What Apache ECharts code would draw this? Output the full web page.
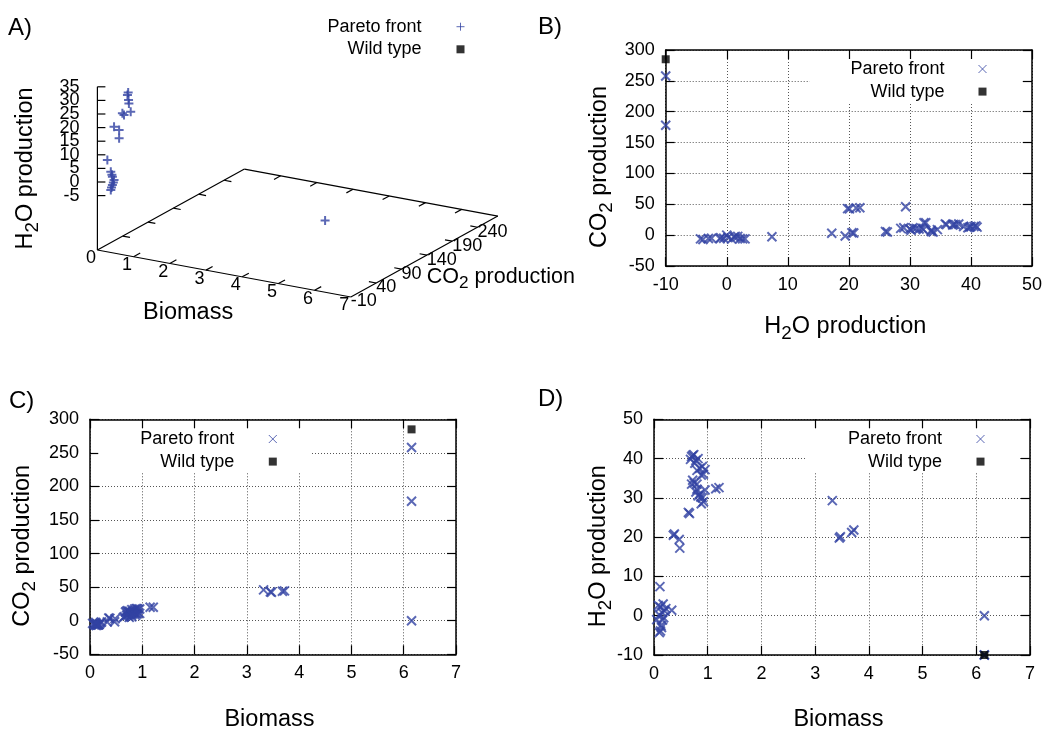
<!DOCTYPE html>
<html>
<head>
<meta charset="utf-8">
<script src="https://cdn.jsdelivr.net/npm/echarts@6.0.0/dist/echarts.min.js"></script>
<style>
html,body{margin:0;padding:0;background:#ffffff;}
#chart{width:1045px;height:729px;}
</style>
</head>
<body>
<div id="chart"></div>
<script>
// ---------------- data ----------------
// Pareto-front solutions: [biomass, CO2 production, H2O production]
const paretoFront = [
  [0.05, -4, -1.0], [0.10, -6, -4.3], [0.12, -7, -3.9], [0.14, -5.5, -3.0],
  [0.13, -5, -2.5], [0.16, -6, -1.1], [0.18, -5, -0.5], [0.10, -4, 0.2],
  [0.15, -6.5, 0.8], [0.20, -3, 1.2], [0.12, -5.5, 2.2], [0.17, -6, 3.0],
  [0.22, -2, 1.8], [0.08, -6, 2.6], [0.33, -2, 1.4], [0.11, -2.5, 7.4],
  [0.36, 4, 20.5], [0.38, 3.5, 20.8], [0.47, -1.4, 19.4], [0.48, 3, 17.2],
  [0.64, 5, 26.3], [0.66, 6, 26.0],
  [0.68, 13, 39.8], [0.70, 14, 40.5], [0.72, 15, 40.8], [0.74, 13, 41.0],
  [0.78, 12, 39.5], [0.82, 14, 40.0], [0.76, 14, 38.8],
  [0.80, 16.5, 37.0], [0.85, 17, 37.5], [0.90, 18, 38.0], [0.92, 17, 36.0],
  [0.88, 18, 35.8], [0.95, 17.5, 37.2],
  [0.75, 5, 33.8], [0.80, 6, 33.5], [0.70, 8, 33.5], [0.72, 9, 34.5],
  [0.85, 11, 31.0], [0.90, 10, 30.0], [0.92, 12, 29.0], [0.88, 11, 28.5],
  [0.78, 10, 31.5], [0.82, 12, 30.5], [0.95, 11, 32.0], [0.87, 8, 30.2], [0.80, 9, 32.2],
  [1.15, 20, 32.3], [1.21, 20, 32.6],
  [3.32, 46, 29.3], [3.47, 42.5, 20.1], [3.45, 43, 19.8], [3.68, 44, 21.2], [3.72, 44.5, 21.8],
  [6.15, 258, -10], [6.15, 178, -10], [6.15, 0, 0]
];
// Wild type: [biomass, CO2 production, H2O production]
const wildType = [[6.15, 285, -10]];
// Points visible in the 3D view (panel A): [biomass, CO2 production, H2O production]
const paretoFront3D = [
  [0.55, 10, 31.3], [0.57, 10, 32.3], [0.59, 10, 28.3], [0.58, 10, 29.5], [0.64, 10, 25.4],
  [0.41, 10, 24.2], [0.455, 10, 23.7],
  [0.32, 0, 20.1], [0.46, 0, 19.2], [0.46, 0, 16.2],
  [0.17, -2.5, 7.7],
  [0.30, -5, 4.0], [0.33, -5, 3.0], [0.344, -5, 2.3], [0.39, -5, 1.2], [0.37, -5, 0.2],
  [0.344, -5, -0.8], [0.32, -5, -1.7], [0.30, -5, -2.7],
  [6.15, 0, 0]
];
// tick labels of the 3D view
const biomassTicks3D = [0, 1, 2, 3, 4, 5, 6, 7];
const co2Ticks3D = [-10, 40, 90, 140, 190, 240];
const h2oTicks3D = [-5, 0, 5, 10, 15, 20, 25, 30, 35];

// ---------------- styles ----------------
const FONT = '"Liberation Sans", Arial, Helvetica, sans-serif';
const BLUE = '#3242a2';
const CROSS = 'path://M0,0L10,10M10,0L0,10';
const PLUS = 'path://M5,0L5,10M0,5L10,5';
const SQUARE = 'path://M0,0L10,0L10,10L0,10Z';

const RICH_OPT = {
  t: {fontSize: 23.5, fontFamily: FONT, color: '#000', lineHeight: 30},
  s: {fontSize: 18.8, fontFamily: FONT, color: '#000', lineHeight: 18.8, padding: [14, 0, 0, 0]}
};
const RICH_ZR = {
  t: {fontSize: 23.5, fontFamily: FONT, fill: '#000', lineHeight: 30},
  s: {fontSize: 18.8, fontFamily: FONT, fill: '#000', lineHeight: 18.8, padding: [14, 0, 0, 0]}
};
const RICH_ZR_SMALL = {
  t: {fontSize: 21.5, fontFamily: FONT, fill: '#000', lineHeight: 28},
  s: {fontSize: 17.2, fontFamily: FONT, fill: '#000', lineHeight: 17.2, padding: [13, 0, 0, 0]}
};
const NAME_H2O = '{t|H}{s|2}{t|O production}';
const NAME_CO2 = '{t|CO}{s|2}{t| production}';

// ---------------- 3D projection for panel A ----------------
const A3D = {ox: 97.4, oy: 250, bx: 36.2, by: 6.71, cx: 0.507, cy: -0.279, zs: 2.72,
  bMax: 7, cMin: -10, cMax: 280, zMax: 35, zBase: -25};
function proj(b, c, z) {
  return [A3D.ox + A3D.bx * b + A3D.cx * (c - A3D.cMin),
          A3D.oy + A3D.by * b + A3D.cy * (c - A3D.cMin) - A3D.zs * (z - A3D.zBase)];
}
const P = (b, c, z) => proj(b, c, z === undefined ? A3D.zBase : z);
const frameA = [];
function seg(p, q) { frameA.push([p[0], p[1], q[0], q[1]]); }
seg(P(0, A3D.cMin), P(A3D.bMax, A3D.cMin));
seg(P(A3D.bMax, A3D.cMin), P(A3D.bMax, A3D.cMax));
seg(P(A3D.bMax, A3D.cMax), P(0, A3D.cMax));
seg(P(0, A3D.cMax), P(0, A3D.cMin));
seg(P(0, A3D.cMin), P(0, A3D.cMin, A3D.zMax));
const tcLen = 0.045 * (A3D.cMax - A3D.cMin);
biomassTicks3D.forEach(b => {
  if (b > 0 && b < A3D.bMax) {
    seg(P(b, A3D.cMin), P(b, A3D.cMin + tcLen));
    seg(P(b, A3D.cMax), P(b, A3D.cMax - tcLen));
  }
});
co2Ticks3D.forEach(c => {
  if (c > A3D.cMin) {
    seg(P(A3D.bMax, c), P(A3D.bMax - 0.2, c));
    seg(P(0, c), P(0.2, c));
  }
});
h2oTicks3D.forEach(z => { const p = P(0, A3D.cMin, z); seg(p, [p[0] + 8, p[1]]); });

const labelsA = [];
h2oTicks3D.forEach(z => { const p = P(0, A3D.cMin, z); labelsA.push({x: p[0] - 18, y: p[1], t: String(z), align: 'right'}); });
biomassTicks3D.forEach(b => { const p = P(b, A3D.cMin); labelsA.push({x: p[0] - 6.5, y: p[1] + 8.5, t: String(b), align: 'center'}); });
co2Ticks3D.forEach(c => { const p = P(A3D.bMax, c); labelsA.push({x: p[0], y: p[1] + 4.5, t: String(c), align: 'left'}); });
(function () {
  const o = P(0, A3D.cMin), top = P(0, A3D.cMin, A3D.zMax), bEnd = P(A3D.bMax, A3D.cMin);
  labelsA.push({x: o[0] - 71.4, y: (o[1] + top[1]) / 2, t: NAME_H2O, rich: RICH_ZR, align: 'center', rot: Math.PI / 2});
  labelsA.push({x: (o[0] + bEnd[0]) / 2 - 36, y: (o[1] + bEnd[1]) / 2 + 39.5, t: 'Biomass', size: 23.5, align: 'center'});
  labelsA.push({x: bEnd[0] + 76, y: bEnd[1] - 20, t: NAME_CO2, rich: RICH_ZR_SMALL, align: 'left'});
})();

// ---------------- axes helpers ----------------
const BORDER = {color: '#000', width: 1.5};
const TICK = {show: true, inside: true, length: 9, lineStyle: {color: '#000', width: 1.2}};
function axisPair(dim, gi, min, max, interval, name, nameGap, nameStyle) {
  const main = {
    type: 'value', gridIndex: gi, min: min, max: max, interval: interval,
    position: dim === 'x' ? 'bottom' : 'left',
    axisLine: {show: true, onZero: false, lineStyle: BORDER},
    axisTick: TICK,
    axisLabel: {show: true, margin: dim === 'x' ? 10 : 11, fontSize: 18, color: '#000', fontFamily: FONT},
    splitLine: {show: true, lineStyle: {type: [1, 2], color: '#555', width: 1}},
    name: name, nameLocation: 'middle', nameGap: nameGap, nameTextStyle: nameStyle,
    nameMoveOverlap: false
  };
  const mirror = {
    type: 'value', gridIndex: gi, min: min, max: max, interval: interval,
    position: dim === 'x' ? 'top' : 'right',
    axisLine: {show: true, onZero: false, lineStyle: BORDER},
    axisTick: TICK, axisLabel: {show: false}, splitLine: {show: false}
  };
  return [main, mirror];
}
const richX = {rich: RICH_OPT, padding: [0, 7, 0, 0]};
const richY = {rich: RICH_OPT, padding: [0, 18, 0, 0]};
const plainX = {fontSize: 23.5, fontFamily: FONT, color: '#000', lineHeight: 24, padding: [0, 7, 0, 0]};

const xAxes = [].concat(
  axisPair('x', 0, -10, 50, 10, NAME_H2O, 46, richX),
  axisPair('x', 1, 0, 7, 1, 'Biomass', 53.7, plainX),
  axisPair('x', 2, 0, 7, 1, 'Biomass', 53, plainX),
  [{type: 'value', gridIndex: 3, min: 0, max: 1045, show: false}]
);
const yAxes = [].concat(
  axisPair('y', 0, -50, 300, 50, NAME_CO2, 50.8, richY),
  axisPair('y', 1, -50, 300, 50, NAME_CO2, 52, richY),
  axisPair('y', 2, -10, 50, 10, NAME_H2O, 40.6, richY),
  [{type: 'value', gridIndex: 3, min: 0, max: 729, inverse: true, show: false}]
);

function scatter(name, xi, data, enc, symbol, size, color, width) {
  return {
    type: 'scatter', name: name, xAxisIndex: xi, yAxisIndex: xi, data: data, encode: enc,
    symbol: symbol, symbolSize: size, clip: false, silent: true,
    itemStyle: symbol === 'rect' ? {color: color} : {color: color, borderColor: color, borderWidth: width}
  };
}

// icon centre sits itemWidth/2 + 5 px right of the text; the box edge is measured
// from the drawn 8px icon plus padding.
function legendCfg(right, top, itemWidth, padding, bg, pfIcon) {
  return {
    orient: 'vertical', align: 'right', right: right, top: top,
    itemWidth: itemWidth, itemHeight: 8, itemGap: 4.6, padding: padding,
    backgroundColor: bg, selectedMode: false, symbolKeepAspect: true,
    textStyle: {fontSize: 18, fontFamily: FONT, color: '#000', lineHeight: 18},
    data: [
      {name: 'Pareto front', icon: pfIcon, itemStyle: {color: BLUE, borderColor: BLUE, borderWidth: 1}},
      {name: 'Wild type', icon: SQUARE, itemStyle: {color: '#000', borderWidth: 0}}
    ]
  };
}

const titleStyle = {fontSize: 24, fontWeight: 'normal', fontFamily: FONT, color: '#000', lineHeight: 28};

const option = {
  animation: false,
  backgroundColor: '#ffffff',
  title: [
    {text: 'A)', left: 8, top: 14, padding: 0, textStyle: titleStyle},
    {text: 'B)', left: 538, top: 13, padding: 0, textStyle: titleStyle},
    {text: 'C)', left: 9, top: 387, padding: 0, textStyle: titleStyle},
    {text: 'D)', left: 538, top: 385, padding: 0, textStyle: titleStyle}
  ],
  grid: [
    {left: 665.7, top: 50, width: 366.3, height: 216, outerBoundsMode: 'none', containLabel: false},
    {left: 90, top: 419.3, width: 366, height: 235, outerBoundsMode: 'none', containLabel: false},
    {left: 654, top: 419.3, width: 376, height: 235.7, outerBoundsMode: 'none', containLabel: false},
    {left: 0, top: 0, width: 1045, height: 729, outerBoundsMode: 'none', containLabel: false}
  ],
  xAxis: xAxes,
  yAxis: yAxes,
  legend: [
    legendCfg(580, 17.7, 68, 0, 'transparent', PLUS),
    legendCfg(23, 59, 66, [1, 35, 2.3, 41], '#ffffff', CROSS),
    legendCfg(735, 428.5, 67, [1.5, 32.7, 2.3, 42], '#ffffff', CROSS),
    legendCfg(27, 428.5, 67, [1.5, 33, 1.3, 41.7], '#ffffff', CROSS)
  ],
  series: [
    scatter('Pareto front', 0, paretoFront, {x: 2, y: 1}, CROSS, 9, BLUE, 2),
    scatter('Wild type', 0, wildType, {x: 2, y: 1}, 'rect', 8, '#000'),
    scatter('Pareto front', 2, paretoFront, {x: 0, y: 1}, CROSS, 9, BLUE, 2),
    scatter('Wild type', 2, wildType, {x: 0, y: 1}, 'rect', 8, '#000'),
    scatter('Pareto front', 4, paretoFront, {x: 0, y: 2}, CROSS, 9, BLUE, 2),
    scatter('Wild type', 4, wildType, {x: 0, y: 2}, 'rect', 8, '#000'),
    {
      type: 'custom', name: 'frameA', xAxisIndex: 6, yAxisIndex: 6, data: frameA, silent: true,
      encode: {x: [0, 2], y: [1, 3]},
      renderItem: function (params, api) {
        const p1 = api.coord([api.value(0), api.value(1)]);
        const p2 = api.coord([api.value(2), api.value(3)]);
        return {type: 'line', shape: {x1: p1[0], y1: p1[1], x2: p2[0], y2: p2[1]},
          style: {stroke: '#000', lineWidth: 1.2}};
      }
    },
    {
      type: 'custom', name: 'labelsA', xAxisIndex: 6, yAxisIndex: 6, silent: true,
      data: labelsA.map(l => [l.x, l.y]),
      renderItem: function (params, api) {
        const L = labelsA[params.dataIndex];
        const p = api.coord([api.value(0), api.value(1)]);
        return {type: 'text', x: p[0], y: p[1], rotation: L.rot || 0,
          style: {text: L.t, rich: L.rich, align: L.align, verticalAlign: 'middle',
            fontSize: L.size || 18, fontFamily: FONT, fill: '#000'}};
      }
    },
    scatter('Pareto front', 6, paretoFront3D.map(p => proj(p[0], p[1], p[2])), {x: 0, y: 1}, PLUS, 9, BLUE, 2)
  ]
};

const chart = echarts.init(document.getElementById('chart'), null, {renderer: 'canvas'});
chart.setOption(option);
</script>
</body>
</html>
